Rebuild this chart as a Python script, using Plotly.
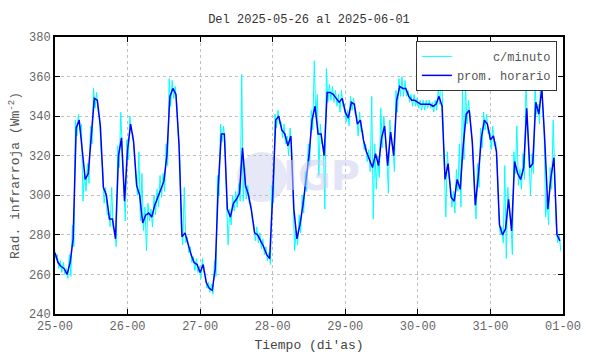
import plotly.graph_objects as go

# ---- data ----
title_text = "Del 2025-05-26 al 2025-06-01"
tick_labels = ["25-00", "26-00", "27-00", "28-00", "29-00", "30-00", "31-00", "01-00"]

# hourly average, one value per hour starting at 25-00
hourly = [271, 266, 264, 263, 260, 266, 278, 334, 338, 322, 308, 311, 330, 349, 348, 335,
          304, 300, 288, 288, 278, 320, 329, 297, 323, 336, 327, 305, 300, 286, 290, 291,
          289, 295, 299, 303, 307, 320, 350, 354, 351, 326, 279, 281, 275, 270, 266, 265,
          261, 265, 256, 253, 252, 263, 305, 331, 331, 293, 289, 296, 298, 301, 324, 305,
          300, 292, 281, 280, 277, 274, 270, 268, 300, 338, 340, 333, 331, 325, 330, 293,
          278, 285, 295, 307, 320, 338, 345, 331, 331, 320, 352, 352, 351, 349, 347, 349,
          342, 339, 347, 346, 336, 338, 328, 322, 318, 314, 321, 315, 329, 335, 315, 332,
          320, 348, 355, 354, 354, 350, 348, 348, 347, 346, 346, 346, 346, 345, 346, 350,
          345, 308, 316, 299, 297, 308, 303, 325, 341, 343, 327, 295, 310, 329, 338, 336,
          328, 330, 322, 285, 280, 283, 298, 282, 317, 311, 308, 314, 344, 314, 316, 347,
          341, 354, 327, 293, 309, 319, 280, 277]

# per-minute data, summarised as the high and low reached within each hour
minute_hi = [274, 270, 267, 266, 263, 270, 285, 338, 341, 336, 312, 316, 335, 354, 352, 339,
             314, 304, 292, 304, 283, 325, 342, 302, 328, 340, 331, 310, 322, 311, 294, 296,
             293, 300, 303, 310, 311, 326, 359, 358, 355, 331, 283, 304, 279, 274, 269, 268,
             264, 268, 260, 256, 255, 267, 310, 336, 335, 297, 293, 300, 302, 306, 361, 314,
             305, 296, 285, 284, 281, 278, 274, 271, 305, 341, 343, 337, 336, 330, 334, 298,
             282, 290, 300, 312, 326, 343, 368, 351, 336, 325, 364, 356, 355, 353, 351, 353,
             346, 343, 350, 349, 340, 342, 333, 326, 323, 350, 326, 320, 344, 340, 320, 338,
             325, 353, 359, 360, 358, 353, 351, 351, 349, 348, 348, 348, 348, 347, 348, 354,
             369, 313, 322, 305, 302, 313, 326, 354, 356, 348, 332, 300, 316, 334, 342, 341,
             333, 335, 327, 290, 284, 315, 304, 287, 322, 335, 313, 321, 356, 319, 321, 356,
             346, 376, 333, 298, 314, 338, 285, 280]
minute_lo = [268, 263, 261, 260, 258, 259, 274, 330, 333, 297, 302, 306, 326, 344, 343, 322,
             296, 290, 284, 283, 274, 314, 324, 287, 318, 332, 322, 300, 287, 282, 272, 287,
             284, 290, 294, 299, 302, 315, 345, 349, 346, 321, 275, 276, 271, 266, 262, 261,
             258, 261, 253, 251, 250, 259, 300, 327, 326, 275, 285, 292, 294, 297, 297, 298,
             296, 288, 277, 276, 273, 270, 267, 265, 296, 334, 336, 329, 326, 320, 325, 272,
             275, 281, 291, 302, 315, 333, 340, 310, 326, 293, 347, 348, 347, 345, 342, 345,
             337, 335, 343, 341, 330, 332, 323, 317, 312, 288, 303, 309, 324, 329, 301, 326,
             312, 342, 350, 350, 350, 347, 345, 345, 344, 343, 343, 344, 344, 342, 343, 346,
             340, 289, 310, 294, 291, 302, 294, 318, 336, 338, 322, 288, 304, 324, 333, 331,
             323, 325, 316, 280, 276, 268, 292, 270, 311, 305, 303, 308, 338, 300, 311, 341,
             336, 347, 289, 285, 303, 313, 276, 272]

# ---- build series positions (x in days from 25-00) ----
hours = list(range(len(hourly)))
x_hour = [h / 24 for h in hours]

x_min, y_min = [], []
for h in hours:
    x_min.append((h - 0.25) / 24)
    y_min.append(minute_hi[h])
    x_min.append((h + 0.25) / 24)
    y_min.append(minute_lo[h])

NB = "\u00a0"
FONT = "Liberation Mono, DejaVu Sans Mono, monospace"

fig = go.Figure()
fig.add_trace(go.Scatter(x=x_min, y=y_min, mode="lines", name=NB * 5 + "c/minuto",
                         line=dict(color="#00ffff", width=1)))
fig.add_trace(go.Scatter(x=x_hour, y=hourly, mode="lines", name="prom. horario",
                         line=dict(color="#0000ff", width=1.5)))

# watermark logo (behind the data) + text
fig.add_shape(type="circle", xref="paper", yref="paper", layer="below",
              x0=(237 - 55) / 508, x1=(287 - 55) / 508,
              y0=(314 - 202) / 277, y1=(314 - 152) / 277,
              fillcolor="#e6e8f8", line=dict(width=0))
fig.add_annotation(text="<b>IGP</b>", xref="paper", yref="paper",
                   x=(321 - 55) / 508, y=(314 - 176) / 277, showarrow=False,
                   font=dict(family="DejaVu Sans, Arial", size=40, color="rgba(205,205,240,0.55)"))

axis_common = dict(showline=True, linecolor="black", linewidth=2, mirror="ticks",
                   ticks="inside", ticklen=5, tickcolor="black", tickwidth=1,
                   showgrid=True, gridcolor="#c0c0c0", griddash="dot", gridwidth=1,
                   zeroline=False, automargin=False,
                   tickfont=dict(family=FONT, size=12, color="#666666"))

fig.update_layout(
    width=590, height=354,
    margin=dict(l=55, r=27, t=37, b=40),
    paper_bgcolor="white", plot_bgcolor="white",
    font=dict(family=FONT, size=12, color="#444444"),
    title=dict(text=title_text, x=309 / 590, xanchor="center", y=1 - 19 / 354,
               yanchor="middle", font=dict(family=FONT, size=12, color="#333333")),
    xaxis=dict(range=[0, 7], tickmode="array", tickvals=list(range(8)), ticktext=tick_labels,
               title=dict(text="Tiempo (di'as)", font=dict(family=FONT, size=13, color="#444444"),
                          standoff=6),
               **axis_common),
    yaxis=dict(range=[240, 380], tickmode="array", tickvals=list(range(240, 381, 20)),
               title=dict(text="Rad. infrarroja (Wm<sup>-2</sup>)",
                          font=dict(family=FONT, size=13, color="#555555"), standoff=6),
               **axis_common),
    legend=dict(x=0.988, y=0.986, xanchor="right", yanchor="top",
                bgcolor="white", bordercolor="#333333", borderwidth=1,
                font=dict(family=FONT, size=12, color="#555555"),
                tracegroupgap=0, itemwidth=30),
    showlegend=True,
)

fig.write_html("out.html")
